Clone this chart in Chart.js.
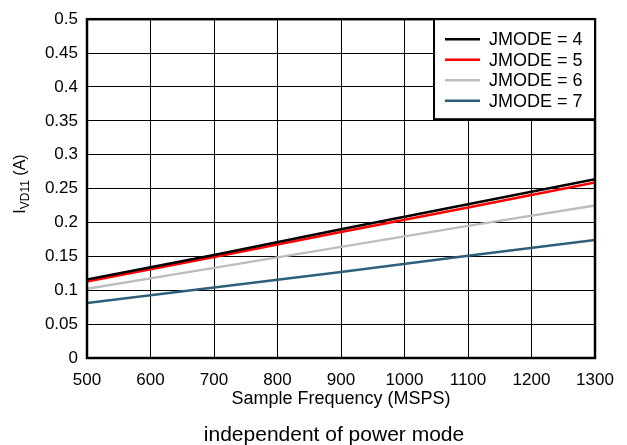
<!DOCTYPE html>
<html><head><meta charset="utf-8">
<script src="https://cdn.jsdelivr.net/npm/chart.js@4"></script>
<style>html,body{margin:0;padding:0;background:#fff}#wrap{width:627px;height:445px}</style>
</head><body><div id="wrap"><canvas id="c" width="627" height="445"></canvas></div>
<script>
const freq = [500, 700, 900, 1100, 1300];
const jmode4 = [0.116, 0.152, 0.190, 0.227, 0.264];
const jmode5 = [0.113, 0.149, 0.186, 0.222, 0.259];
const jmode6 = [0.102, 0.133, 0.164, 0.195, 0.225];
const jmode7 = [0.081, 0.104, 0.127, 0.151, 0.174];
const seriesLabels = ['JMODE = 4', 'JMODE = 5', 'JMODE = 6', 'JMODE = 7'];
const colors = ['#000000', '#ff0000', '#bdbdbd', '#2e5f78'];
const xTitle = 'Sample Frequency (MSPS)';
const caption = 'independent of power mode';
const FONT = '"Liberation Sans", Arial, Helvetica, sans-serif';

function pts(v){ return freq.map((f,i)=>({x:f,y:v[i]})); }
const all = [jmode4, jmode5, jmode6, jmode7];

const decor = {
  id:'decor',
  afterDraw(chart){
    const ctx = chart.ctx, a = chart.chartArea;
    ctx.save();
    // frame
    ctx.strokeStyle = '#000'; ctx.lineWidth = 2.5;
    ctx.strokeRect(a.left, a.top, a.right-a.left, a.bottom-a.top);
    // legend
    const lx = 434, ly = a.top, lw = a.right - lx, lh = 100;
    ctx.fillStyle = '#fff'; ctx.fillRect(lx, ly, lw, lh);
    ctx.lineWidth = 2; ctx.strokeRect(lx, ly, lw, lh);
    ctx.font = '18px ' + FONT; ctx.textBaseline = 'middle'; ctx.textAlign = 'left';
    chart.data.datasets.forEach((d,i)=>{
      const y = ly + 20 + i*20.5;
      ctx.strokeStyle = d.borderColor; ctx.lineWidth = 2.5;
      ctx.beginPath(); ctx.moveTo(lx+11, y); ctx.lineTo(lx+46, y); ctx.stroke();
      ctx.fillStyle = '#000'; ctx.fillText(d.label, lx+55, y+1);
    });
    // x title
    ctx.textAlign = 'center'; ctx.fillStyle = '#000';
    ctx.font = '18px ' + FONT;
    ctx.fillText(xTitle, (a.left+a.right)/2, 399);
    ctx.font = '21px ' + FONT;
    ctx.fillText(caption, 334, 435);
    // y title with subscript
    ctx.translate(21, 184);
    ctx.rotate(-Math.PI/2);
    const p1 = 'I', p2 = 'VD11', p3 = ' (A)';
    ctx.font = '16px ' + FONT; const w1 = ctx.measureText(p1).width, w3 = ctx.measureText(p3).width;
    ctx.font = '12px ' + FONT; const w2 = ctx.measureText(p2).width;
    let x = -(w1+w2+w3)/2;
    ctx.textAlign = 'left';
    ctx.font = '16px ' + FONT; ctx.fillText(p1, x, 0); x += w1;
    ctx.font = '12px ' + FONT; ctx.fillText(p2, x, 5); x += w2;
    ctx.font = '16px ' + FONT; ctx.fillText(p3, x, 0);
    ctx.restore();
  }
};

new Chart(document.getElementById('c'), {
  type:'line',
  data:{ datasets: all.map((v,i)=>({label:seriesLabels[i], data:pts(v), borderColor:colors[i], backgroundColor:colors[i], borderWidth:2.5, pointRadius:0, tension:0})) },
  options:{
    responsive:false, animation:false, devicePixelRatio:1,
    layout:{padding:{top:17, right:32, left:0, bottom:0}},
    plugins:{legend:{display:false}, tooltip:{enabled:false}},
    scales:{
      x:{type:'linear', min:500, max:1300,
         ticks:{stepSize:100, color:'#000', font:{size:17, family:FONT}, padding:12, maxRotation:0, callback:v=>String(v)},
         grid:{color:'#000', lineWidth:1, tickLength:0}, border:{display:false},
         afterFit(s){ s.height = 87; }},
      y:{min:0, max:0.5,
         ticks:{stepSize:0.05, color:'#000', font:{size:17, family:FONT}, padding:9, callback:v=>String(Math.round(v*100)/100)},
         grid:{color:'#000', lineWidth:1, tickLength:0}, border:{display:false},
         afterFit(s){ s.width = 87; }}
    }
  },
  plugins:[decor]
});
</script></body></html>
